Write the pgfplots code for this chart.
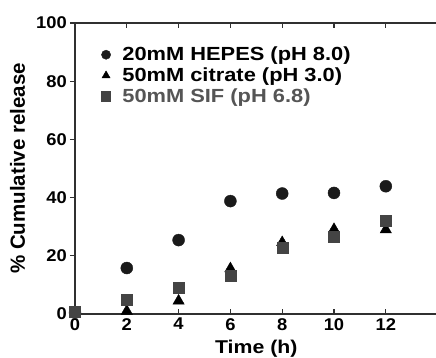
\documentclass[border=0pt]{standalone}
\usepackage{pgfplots}
\pgfplotsset{compat=1.18}
\usetikzlibrary{calc}
\usepackage{fontspec}
\setmainfont{Liberation Sans}
\newfontfamily\hfont{Liberation Sans}[FakeStretch=1.15]
\newfontfamily\tfont{Liberation Sans}[FakeStretch=1.08]
\definecolor{axcol}{HTML}{303030}
\definecolor{circ}{HTML}{1A1A1A}
\definecolor{sq}{HTML}{444444}
\definecolor{sqtxt}{HTML}{555555}
\begin{document}
\begin{tikzpicture}
\begin{axis}[
  scale only axis,
  width=362.6pt, height=291pt,
  xmin=0, xmax=14, ymin=0, ymax=100,
  clip=false,
  axis line style={axcol, line width=1.3pt},
  xtick={0,2,4,6,8,10,12},
  ytick={0,20,40,60,80,100},
  xtick align=inside,
  ytick align=outside,
  ytick pos=left,
  major tick length=5pt,
  tick style={axcol, line width=1.2pt},
  /pgf/number format/assume math mode=true,
  xticklabel style={font=\tfont\bfseries\fontsize{17}{20}\selectfont, inner sep=4pt},
  yticklabel style={font=\tfont\bfseries\fontsize{17}{20}\selectfont, inner sep=3pt},
  xlabel={Time (h)},
  ylabel={\% Cumulative release},
  xlabel style={font=\hfont\bfseries\fontsize{18.5}{22}\selectfont, at={(axis description cs:0.5,0)}, anchor=center, yshift=-35pt},
  ylabel style={font=\bfseries\fontsize{20.5}{24}\selectfont, at={(axis description cs:0,0.5)}, anchor=center, yshift=57.5pt},
  legend style={draw=none, fill=none, at={(axis description cs:0.071,0.923)}, anchor=north west,
    font=\hfont\bfseries\fontsize{19}{22}\selectfont, inner sep=0pt, row sep=2.5pt,
    nodes={inner sep=1.5pt}},
  legend cell align=left,
  legend image code/.code={\path[draw=none, fill=none] (0cm,0cm) -- (0.7cm,0cm); \draw[mark size=4.6pt, #1] plot coordinates {(0.18cm,0cm)};},
]
\addplot[only marks, mark=*, mark size=6pt, draw=circ, fill=circ, legend image post style={mark size=4.6pt}]
  coordinates {(0,0.5) (2,15.8) (4,25.4) (6,38.8) (8,41.4) (10,41.6) (12,43.9)};
\addlegendentry{20mM HEPES (pH 8.0)}
\addplot[only marks, mark=triangle*, mark size=6.5pt, draw=black, fill=black, legend image post style={mark size=5pt}]
  coordinates {(0,0.3) (2,1.0) (4,4.5) (6,15.6) (8,24.6) (10,29.1) (12,29.0)};
\addlegendentry{50mM citrate (pH 3.0)}
\addplot[only marks, mark=square*, mark size=5.5pt, draw=sq, fill=sq, legend image post style={mark size=4pt}]
  coordinates {(0,0.8) (2,4.8) (4,8.9) (6,13.3) (8,22.7) (10,26.7) (12,32.2)};
\addlegendentry{\textcolor{sqtxt}{50mM SIF (pH 6.8)}}
\end{axis}
\pgfresetboundingbox
\useasboundingbox ($(current axis.south west)+(-75pt,-44pt)$) rectangle ($(current axis.south west)+(361pt,314pt)$);
\end{tikzpicture}
\end{document}
